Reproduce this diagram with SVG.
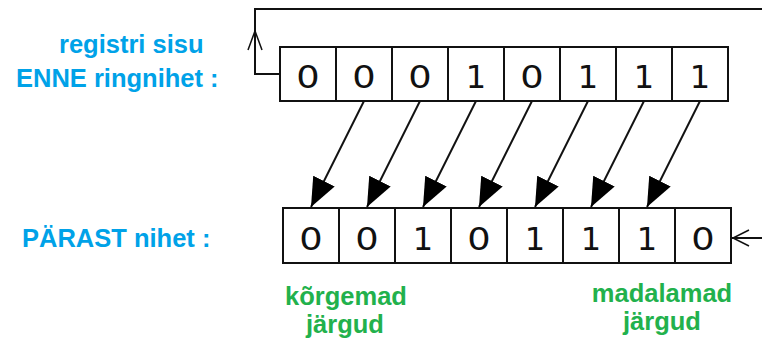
<svg xmlns="http://www.w3.org/2000/svg" width="762" height="340" viewBox="0 0 762 340">
  <style>
    .cell { fill: #ffffff; stroke: #111111; stroke-width: 2; }
    .bit { font-family: "DejaVu Sans", sans-serif; font-size: 32px; fill: #111111; text-anchor: middle; }
    .lbl { font-family: "Liberation Sans", Arial, sans-serif; font-weight: bold; font-size: 25.5px; }
    .blue { fill: #00a2e8; }
    .green { fill: #22b14c; text-anchor: middle; }
    .wire { fill: none; stroke: #111111; stroke-width: 2; }
    .thin { fill: none; stroke: #111111; stroke-width: 1.5; }
  </style>
  <defs>
    <marker id="head" markerUnits="userSpaceOnUse" viewBox="0 -12 29 24" refX="29" refY="0" markerWidth="29" markerHeight="24" orient="auto">
      <path d="M0,-12 L29,0 L0,12 z" fill="#000000"/>
    </marker>
  </defs>

  <rect width="762" height="340" fill="#ffffff"/>

  <!-- labels -->
  <g id="label-before">
    <text class="lbl blue" x="59" y="53">registri sisu</text>
    <text class="lbl blue" x="16" y="87">ENNE ringnihet :</text>
  </g>
  <g id="label-after">
    <text class="lbl blue" x="22" y="247">PÄRAST nihet :</text>
  </g>
  <g id="label-high">
    <text class="lbl green" x="346" y="305">kõrgemad</text>
    <text class="lbl green" x="345" y="333">järgud</text>
  </g>
  <g id="label-low">
    <text class="lbl green" x="662" y="302">madalamad</text>
    <text class="lbl green" x="662" y="330">järgud</text>
  </g>

  <!-- register before the rotation (zeros are drawn slightly wide) -->
  <g id="register-before">
    <rect class="cell" x="280" y="47" width="56" height="54"/>
    <rect class="cell" x="336" y="47" width="56" height="54"/>
    <rect class="cell" x="392" y="47" width="56" height="54"/>
    <rect class="cell" x="448" y="47" width="56" height="54"/>
    <rect class="cell" x="504" y="47" width="56" height="54"/>
    <rect class="cell" x="560" y="47" width="56" height="54"/>
    <rect class="cell" x="616" y="47" width="56" height="54"/>
    <rect class="cell" x="672" y="47" width="56" height="54"/>
    <text class="bit" transform="translate(308 88) scale(1.15 1)">0</text>
    <text class="bit" transform="translate(364 88) scale(1.15 1)">0</text>
    <text class="bit" transform="translate(420 88) scale(1.15 1)">0</text>
    <text class="bit" x="476" y="88">1</text>
    <text class="bit" transform="translate(532 88) scale(1.15 1)">0</text>
    <text class="bit" x="588" y="88">1</text>
    <text class="bit" x="644" y="88">1</text>
    <text class="bit" x="700" y="88">1</text>
  </g>

  <!-- register after the rotation -->
  <g id="register-after">
    <rect class="cell" x="283" y="208" width="56" height="55"/>
    <rect class="cell" x="339" y="208" width="56" height="55"/>
    <rect class="cell" x="395" y="208" width="56" height="55"/>
    <rect class="cell" x="451" y="208" width="56" height="55"/>
    <rect class="cell" x="507" y="208" width="56" height="55"/>
    <rect class="cell" x="563" y="208" width="56" height="55"/>
    <rect class="cell" x="619" y="208" width="56" height="55"/>
    <rect class="cell" x="675" y="208" width="56" height="55"/>
    <text class="bit" transform="translate(311 250) scale(1.15 1)">0</text>
    <text class="bit" transform="translate(367 250) scale(1.15 1)">0</text>
    <text class="bit" x="423" y="250">1</text>
    <text class="bit" transform="translate(479 250) scale(1.15 1)">0</text>
    <text class="bit" x="535" y="250">1</text>
    <text class="bit" x="591" y="250">1</text>
    <text class="bit" x="647" y="250">1</text>
    <text class="bit" transform="translate(703 250) scale(1.15 1)">0</text>
  </g>

  <!-- connectors -->
  <g id="connectors">
    <line class="wire" x1="364" y1="101" x2="311" y2="207" marker-end="url(#head)"/>
    <line class="wire" x1="420" y1="101" x2="367" y2="207" marker-end="url(#head)"/>
    <line class="wire" x1="476" y1="101" x2="423" y2="207" marker-end="url(#head)"/>
    <line class="wire" x1="532" y1="101" x2="479" y2="207" marker-end="url(#head)"/>
    <line class="wire" x1="588" y1="101" x2="535" y2="207" marker-end="url(#head)"/>
    <line class="wire" x1="644" y1="101" x2="591" y2="207" marker-end="url(#head)"/>
    <line class="wire" x1="700" y1="101" x2="647" y2="207" marker-end="url(#head)"/>
    <!-- feedback loop out of the top register -->
    <polyline class="wire" points="280,74 255,74 255,9 762,9"/>
    <polyline class="thin" points="248,50 255,31 262,50"/>
    <!-- input into the bottom register -->
    <line class="wire" x1="762" y1="238" x2="732" y2="238"/>
    <polyline class="thin" points="749,230 733,238 749,246"/>
  </g>
</svg>
